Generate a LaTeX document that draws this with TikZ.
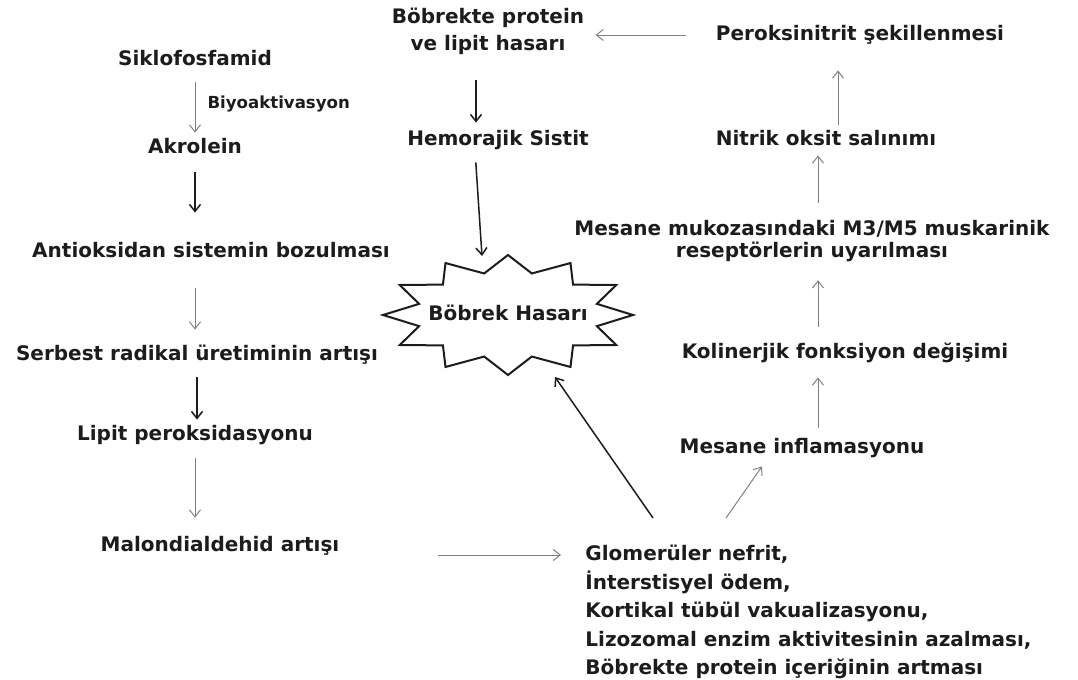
\documentclass[tikz,border=0pt]{standalone}
\usepackage{fontspec}
\setmainfont{DejaVu Sans}
\usepackage{tikz}
\usetikzlibrary{arrows.meta,calc}
\definecolor{ink}{HTML}{1C1C1C}
\tikzset{
    % Step text
    stepnode/.style={font=\fontsize{10}{13}\selectfont\bfseries,text=ink,inner sep=0pt,text height=7.6pt,text depth=2.4pt},
    % Step text on two lines
    twoline/.style={font=\fontsize{10}{13.5}\selectfont\bfseries,text=ink,inner sep=0pt,align=center},
    % List of findings
    findings/.style={font=\fontsize{10}{14.25}\selectfont\bfseries,text=ink,inner sep=0pt,align=left},
    % Dark arrow
    darkarrow/.style={-{Straight Barb[length=3.5pt,width=5.5pt]},line width=0.75pt,ink},
    % Light arrow
    lightarrow/.style={-{Straight Barb[length=3.5pt,width=5.5pt]},line width=0.5pt,black!50},
    % Jagged outline
    jagged/.style={line width=1pt,ink,line join=miter}
}
\begin{document}
\begin{tikzpicture}[x=0.5pt,y=-0.5pt]
    \useasboundingbox (0,0) rectangle (1078,680);

    % Left chain
    \node[stepnode] (siklo) at (195,60) {Siklofosfamid};
    \node[stepnode] (akrolein) at (195,148) {Akrolein};
    \node[stepnode] (antiok) at (211,252) {Antioksidan sistemin bozulması};
    \node[stepnode] (serbest) at (197,355) {Serbest radikal üretiminin artışı};
    \node[stepnode] (lipit) at (195,435) {Lipit peroksidasyonu};
    \node[stepnode] (malon) at (220,546) {Malondialdehid artışı};

    % Middle
    \node[twoline] (bprotein) at (488,31.5) {Böbrekte protein\\ve lipit hasarı};
    \node[stepnode] (hemorajik) at (498,140) {Hemorajik Sistit};
    \node[stepnode] (hasar) at (508,315) {Böbrek Hasarı};
    \draw[jagged] ($(hasar)+(90:125 and 60)$)
        \foreach \k in {0,...,10} {
            -- ($(hasar)+(105+30*\k:92 and 43)$) -- ($(hasar)+(120+30*\k:125 and 60)$)
        } -- ($(hasar)+(435:92 and 43)$) -- cycle;

    % Right chain
    \node[stepnode] (peroks) at (860,35) {Peroksinitrit şekillenmesi};
    \node[stepnode] (nitrik) at (826,140) {Nitrik oksit salınımı};
    \node[twoline,font=\fontsize{10}{11}\selectfont\bfseries] (musk) at (812,241)
        {Mesane mukozasındaki M3/M5 muskarinik\\reseptörlerin uyarılması};
    \node[stepnode] (kolin) at (845,353) {Kolinerjik fonksiyon değişimi};
    \node[stepnode] (infl) at (802,448) {Mesane inflamasyonu};

    % Findings
    \node[findings,anchor=north west] (glom) at (585,545)
        {Glomerüler nefrit,\\İnterstisyel ödem,\\Kortikal tübül vakualizasyonu,\\Lizozomal enzim aktivitesinin azalması,\\Böbrekte protein içeriğinin artması};

    % Arrows, left
    \draw[lightarrow,shorten <=6pt,shorten >=2.5pt] (siklo) -- (akrolein)
        node[midway,anchor=west,xshift=6pt,inner sep=0pt,font=\fontsize{8.3}{10}\selectfont\bfseries,text=ink] (biyo) {Biyoaktivasyon};
    \draw[darkarrow,shorten <=7pt,shorten >=14.5pt] (akrolein.south) -- (akrolein.south |- antiok.north);
    \draw[lightarrow,shorten <=13pt,shorten >=7.5pt] (akrolein.south |- antiok.south) -- (akrolein.south |- serbest.north);
    \draw[darkarrow,shorten <=6pt,shorten >=2.5pt] (serbest.south) -- (serbest.south |- lipit.north);
    \draw[lightarrow,shorten <=6.5pt,shorten >=9pt] (lipit.south) -- (lipit.south |- malon.north);
    \draw[lightarrow,shorten <=49pt,shorten >=12pt] ([yshift=-4.5pt]malon.east) -- ([yshift=-4.5pt]malon.east -| glom.west);

    % Arrows, middle
    \draw[lightarrow,shorten <=15pt,shorten >=5.5pt] (peroks.west) -- (peroks.west -| bprotein.east);
    \draw[darkarrow,shorten <=12.5pt,shorten >=3.5pt] ([xshift=-6pt]bprotein.south) -- ([xshift=-6pt]bprotein.south |- hemorajik.north);
    \draw[darkarrow,shorten <=6pt] ([xshift=-11.5pt]hemorajik.south) -- ([shift={(-26,-59)}]hasar.center);
    \draw[darkarrow] ([shift={(68,-27)}]glom.north west) -- ([shift={(47,62)}]hasar.center);

    % Arrows, right
    \draw[lightarrow] ([shift={(141,-27)}]glom.north west) -- ([shift={(-40,8)}]infl.south);
    \draw[lightarrow,shorten <=5pt,shorten >=7pt] ([xshift=8pt]infl.north) -- ([xshift=8pt]infl.north |- kolin.south);
    \draw[lightarrow,shorten <=8pt,shorten >=9pt] ([xshift=3pt]musk.south |- kolin.north) -- ([xshift=3pt]musk.south);
    \draw[lightarrow,shorten <=8.5pt,shorten >=2.5pt] ([xshift=3pt]musk.north) -- ([xshift=3pt]musk.north |- nitrik.south);
    \draw[lightarrow,shorten <=2.5pt,shorten >=12.5pt] ([xshift=6pt]nitrik.north) -- ([xshift=6pt]nitrik.north |- peroks.south);
\end{tikzpicture}
\end{document}
